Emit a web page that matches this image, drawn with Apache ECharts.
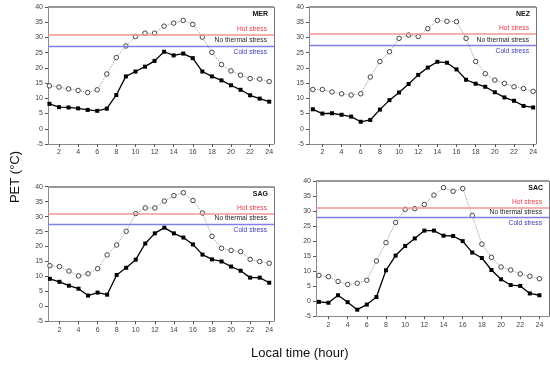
<!DOCTYPE html>
<html>
<head>
<meta charset="utf-8">
<script src="https://cdn.jsdelivr.net/npm/echarts@6/dist/echarts.min.js"></script>
<style>html,body{margin:0;padding:0;background:#fff;}#c{width:550px;height:365px;}</style>
</head>
<body>
<div id="c"></div>
<script>
const hours = [1,2,3,4,5,6,7,8,9,10,11,12,13,14,15,16,17,18,19,20,21,22,23,24];
const xTickLabels = [2,4,6,8,10,12,14,16,18,20,22,24];
const panelNames = ['MER','NEZ','SAG','SAC'];

const merOpen  = [14.1,13.7,13.1,12.6,11.9,12.8,18.0,23.4,27.2,30.3,31.4,31.4,33.7,34.7,35.6,34.3,30.1,25.1,21.1,19.0,17.6,16.5,16.3,15.5];
const merFill  = [8.2,7.1,7.0,6.7,6.2,5.9,6.6,11.1,17.2,18.8,20.4,22.3,25.3,24.1,24.7,23.2,18.8,17.2,15.9,14.3,12.8,11.0,9.9,8.9];
const nezOpen  = [12.9,12.9,12.1,11.5,11.1,11.5,17.0,22.1,25.3,29.7,30.8,30.3,32.9,35.6,35.3,35.2,29.7,22.1,18.1,16.0,14.9,13.8,13.2,12.3];
const nezFill  = [6.4,5.0,5.1,4.6,4.0,2.3,2.9,6.3,9.4,11.9,14.7,17.7,20.1,22.0,21.7,19.5,16.1,14.8,13.8,12.0,10.3,9.2,7.5,7.0];
const sagOpen  = [13.6,13.3,11.8,10.2,10.9,12.6,17.2,20.5,25.1,31.0,32.9,32.9,35.2,37.0,38.0,35.4,31.2,23.4,19.4,18.7,18.3,15.7,15.0,14.4];
const sagFill  = [9.2,8.2,6.9,5.9,3.6,4.6,3.9,10.5,12.9,15.6,21.0,24.4,26.3,24.4,23.0,20.7,17.3,15.7,15.0,13.3,11.9,9.6,9.6,7.9];
const sacOpen  = [8.6,8.2,6.6,5.6,6.0,7.0,13.4,19.5,26.2,30.6,30.8,32.2,35.3,37.8,36.6,37.5,28.5,19.0,14.6,11.4,10.4,9.1,8.3,7.5];
const sacFill  = [-0.2,-0.5,2.0,-0.3,-2.8,-1.1,1.4,10.3,15.2,18.4,20.9,23.5,23.5,21.8,21.7,20.0,16.2,14.4,10.4,7.3,5.4,5.1,2.6,2.0];

const hotLimits  = [30.9,31.3,31.1,31.1];
const coldLimits = [27.2,27.4,27.5,27.9];

const openSeries = [merOpen, nezOpen, sagOpen, sacOpen];
const fillSeries = [merFill, nezFill, sagFill, sacFill];

const grids = [
  {left:48, top:7, width:226, height:137},
  {left:309, top:7, width:227, height:137},
  {left:48, top:186.7, width:226, height:134.6},
  {left:316, top:181, width:233, height:135.3}
];
const xMins = [0.85, 0.6, 0.8, 0.7];
const xMaxs = [24.5, 24.3, 24.5, 25.0];

const axisGray = '#8a8a8a';
const labelStyle = {fontSize:7, color:'#444', fontFamily:'Liberation Sans, Arial, sans-serif'};
const txtFont = 'Liberation Sans, Arial, sans-serif';

const xAxes = [], yAxes = [], series = [];
for (let i = 0; i < 4; i++) {
  xAxes.push({
    type:'value', gridIndex:i, min:xMins[i], max:xMaxs[i],
    axisLine:{show:true, onZero:false, lineStyle:{color:axisGray, width:1}},
    axisTick:{show:true, length:3, lineStyle:{color:'#555'}, customValues:xTickLabels},
    axisLabel:Object.assign({margin:5, customValues:xTickLabels}, labelStyle),
    splitLine:{show:false}
  });
  yAxes.push({
    type:'value', gridIndex:i, min:-5, max:40, interval:5,
    axisLine:{show:true, onZero:false, lineStyle:{color:axisGray, width:1}},
    axisTick:{show:true, length:3, lineStyle:{color:'#555'}},
    axisLabel:Object.assign({margin:5, showMaxLabel:true}, labelStyle),
    splitLine:{show:false}
  });
  series.push({
    type:'line', xAxisIndex:i, yAxisIndex:i, data:[], silent:true, animation:false,
    markLine:{
      silent:true, symbol:'none', animation:false,
      data:[
        {yAxis:hotLimits[i], lineStyle:{color:'#f29494', width:1.5, type:'solid'},
         label:{show:true, formatter:'Hot stress', position:'insideEndTop', distance:[7,2], color:'#e03a4a', fontSize:6.7, fontFamily:txtFont}},
        {yAxis:coldLimits[i], lineStyle:{color:'#8080e6', width:1.4, type:'solid'},
         label:{show:true, formatter:'No thermal stress', position:'insideEndTop', distance:[7,2], color:'#222', fontSize:6.7, fontFamily:txtFont}},
        {yAxis:coldLimits[i], lineStyle:{color:'rgba(0,0,0,0)', width:1.4, type:'solid'},
         label:{show:true, formatter:'Cold stress', position:'insideEndBottom', distance:[7,2.5], color:'#3a3ab0', fontSize:6.7, fontFamily:txtFont}},
        {yAxis:40, lineStyle:{color:'#999', width:2, type:'solid'},
         label:{show:true, formatter:panelNames[i], position:'insideEndBottom', distance:[6,4], color:'#111', fontWeight:'bold', fontSize:7, fontFamily:txtFont}},
        {xAxis:xMaxs[i], lineStyle:{color:'#777', width:1, type:'solid'}, label:{show:false}}
      ]
    }
  });
  series.push({
    type:'line', xAxisIndex:i, yAxisIndex:i,
    data: hours.map((h,k)=>[h, openSeries[i][k]]),
    symbol:'circle', symbolSize:4.5,
    itemStyle:{color:'#fff', borderColor:'#333', borderWidth:0.9},
    lineStyle:{color:'#999', width:1, type:'dotted'},
    z:3, animation:false
  });
  series.push({
    type:'line', xAxisIndex:i, yAxisIndex:i,
    data: hours.map((h,k)=>[h, fillSeries[i][k]]),
    symbol:'rect', symbolSize:4,
    itemStyle:{color:'#000'},
    lineStyle:{color:'#000', width:1.3},
    z:4, animation:false
  });
}

const chart = echarts.init(document.getElementById('c'), null, {renderer:'canvas'});
chart.setOption({
  backgroundColor:'#fff',
  animation:false,
  grid:grids,
  xAxis:xAxes,
  yAxis:yAxes,
  series:series,
  graphic:[
    {type:'text', left:251, top:347, style:{text:'Local time (hour)', fontSize:13, fill:'#111', fontFamily:txtFont}},
    {type:'text', x:15, y:177, rotation:Math.PI/2, style:{text:'PET (°C)', fontSize:13, fill:'#111', fontFamily:txtFont, align:'center', verticalAlign:'middle'}}
  ]
});
</script>
</body>
</html>
